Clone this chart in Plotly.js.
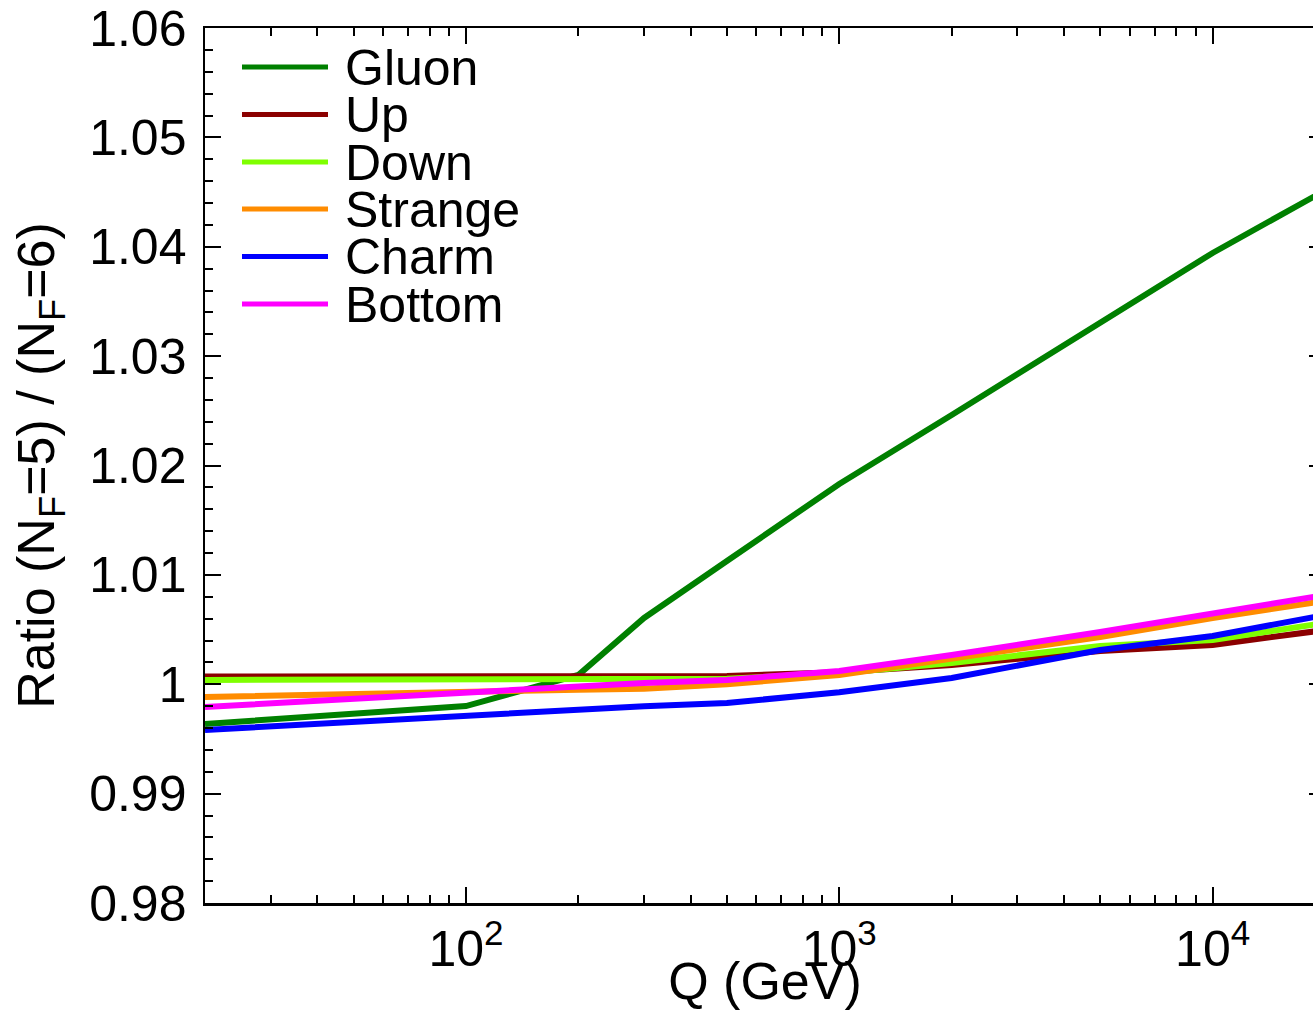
<!DOCTYPE html>
<html>
<head>
<meta charset="utf-8">
<script src="https://cdn.plot.ly/plotly-3.0.1.min.js"></script>
<style>
html, body { margin: 0; padding: 0; overflow: hidden; background: #fff; }
#chart { width: 1340px; height: 1010px; }
</style>
</head>
<body>
<div id="chart"></div>
<script>
// Q values (GeV)
const Q = [20, 100, 200, 300, 500, 1000, 2000, 5000, 10000, 20000];

// Ratio (N_F=5)/(N_F=6) per parton
const gluon   = [0.99637, 0.99801, 1.00085, 1.00606, 1.01127, 1.01831, 1.02462, 1.03303, 1.03943, 1.04515];
const up      = [1.00070, 1.00070, 1.00070, 1.00070, 1.00075, 1.00110, 1.00176, 1.00304, 1.00359, 1.00496];
const down    = [1.00040, 1.00040, 1.00040, 1.00042, 1.00050, 1.00100, 1.00194, 1.00350, 1.00405, 1.00560];
const strange = [0.99883, 0.99939, 0.99950, 0.99960, 1.00000, 1.00085, 1.00231, 1.00432, 1.00606, 1.00761];
const charm   = [0.99582, 0.99717, 0.99770, 0.99800, 0.99829, 0.99926, 1.00057, 1.00313, 1.00441, 1.00633];
const bottom  = [0.99792, 0.99931, 0.99980, 1.00012, 1.00040, 1.00121, 1.00267, 1.00478, 1.00651, 1.00816];

const names  = ["Gluon", "Up", "Down", "Strange", "Charm", "Bottom"];
const series = [gluon, up, down, strange, charm, bottom];
const colors = ["#008000", "#8b0000", "#7fff00", "#ff8c00", "#0000ff", "#ff00ff"];

const xTickVals = [100, 1000, 10000];
const xTickText = ["10<sup>2</sup>", "10<sup>3</sup>", "10<sup>4</sup>"];

const FONT = "'Liberation Sans', Arial, Helvetica, sans-serif";
const FS = 50;
const FT = 52;

const traces = series.map((ys, i) => ({
  x: Q, y: ys, type: "scatter", mode: "lines", name: names[i],
  line: { color: colors[i], width: 6 }, showlegend: false
}));

// legend built in paper coordinates
const L = 205, R = 1325, T = 28, B = 903;
const legRows = [67, 114.5, 162, 209, 256.5, 304];
const px2x = p => (p - L) / (R - L);
const py2y = p => (B - p) / (B - T);
const shapes = [];
const annotations = [];
names.forEach((n, i) => {
  shapes.push({ type: "line", xref: "paper", yref: "paper",
    x0: px2x(242), x1: px2x(328), y0: py2y(legRows[i]), y1: py2y(legRows[i]),
    line: { color: colors[i], width: 5 } });
  annotations.push({ xref: "paper", yref: "paper", x: px2x(343), y: py2y(legRows[i] + 1),
    xanchor: "left", yanchor: "middle", text: n, showarrow: false,
    font: { family: FONT, size: FS, color: "#000" } });
});

const layout = {
  width: 1340, height: 1010,
  margin: { l: L, r: 1340 - R, t: T, b: 1010 - B },
  paper_bgcolor: "#fff", plot_bgcolor: "#fff",
  showlegend: false,
  font: { family: FONT, size: FS, color: "#000" },
  xaxis: {
    type: "log", range: [Math.log10(20), Math.log10(20000)],
    tickvals: xTickVals, ticktext: xTickText,
    ticks: "inside", ticklen: 16, tickwidth: 2, tickcolor: "#000",
    minor: { ticks: "inside", ticklen: 8, tickwidth: 2, tickcolor: "#000", dtick: "D1" },
    showline: true, linecolor: "#000", linewidth: 2.5, mirror: "allticks",
    showgrid: false, zeroline: false,
    tickfont: { family: FONT, size: FS, color: "#000" },
    title: { text: "Q (GeV)", font: { family: FONT, size: FT, color: "#000" }, standoff: 0 }
  },
  yaxis: {
    range: [0.98, 1.06], dtick: 0.01, tick0: 1,
    ticks: "inside", ticklen: 16, tickwidth: 2, tickcolor: "#000",
    minor: { ticks: "inside", ticklen: 8, tickwidth: 2, tickcolor: "#000", dtick: 0.002 },
    showline: true, linecolor: "#000", linewidth: 2.5, mirror: "allticks",
    showgrid: false, zeroline: false, ticklabelstandoff: 6,
    tickfont: { family: FONT, size: FS, color: "#000" },
    title: { text: "Ratio (N<sub>F</sub>=5) / (N<sub>F</sub>=6)", font: { family: FONT, size: FT, color: "#000" }, standoff: 18 }
  },
  shapes: shapes,
  annotations: annotations
};

Plotly.newPlot("chart", traces, layout, { displayModeBar: false, staticPlot: true });
</script>
</body>
</html>
